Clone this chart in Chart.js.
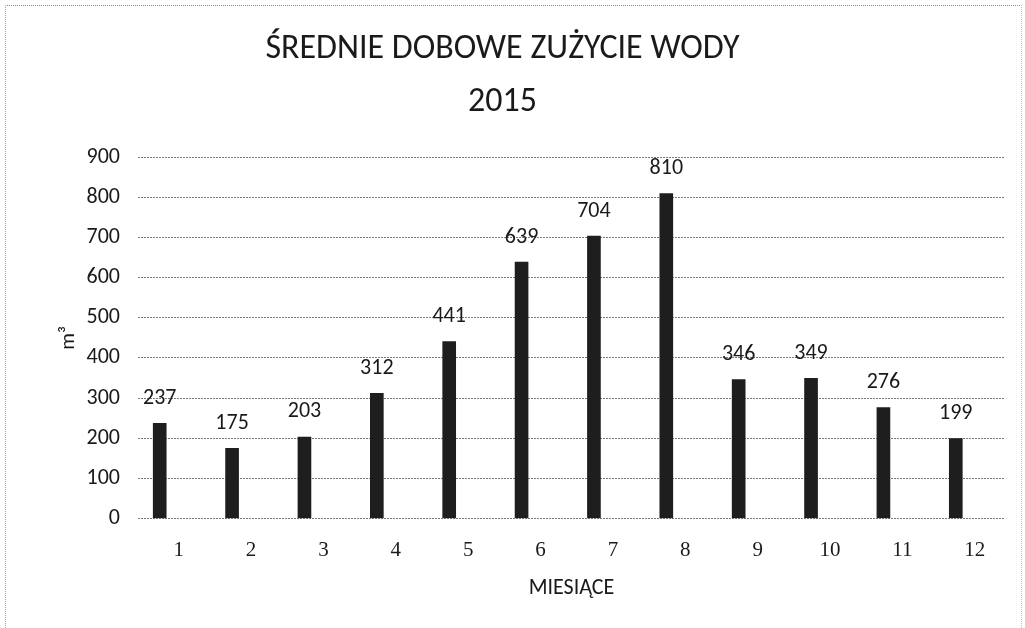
<!DOCTYPE html>
<html>
<head>
<meta charset="utf-8">
<script src="https://cdn.jsdelivr.net/npm/chart.js@4.4.1/dist/chart.umd.min.js"></script>
<style>
html,body{margin:0;padding:0;background:#fff;}
#wrap{position:relative;width:1025px;height:628px;overflow:hidden;}
#frame{position:absolute;left:5px;top:5px;width:1015px;height:640px;border-top:1px dotted #888;border-left:1px dotted #aaa;border-right:1px dotted #bbb;pointer-events:none;}
canvas{position:absolute;left:0;top:0;}
</style>
</head>
<body>
<div id="wrap">
<canvas id="c" width="1025" height="628"></canvas>
<div id="frame"></div>
</div>
<script>
const titleLines = ['ŚREDNIE DOBOWE ZUŻYCIE WODY', '2015'];
const months = [1, 2, 3, 4, 5, 6, 7, 8, 9, 10, 11, 12];
const usage = [237, 175, 203, 312, 441, 639, 704, 810, 346, 349, 276, 199];
const yTicks = [0, 100, 200, 300, 400, 500, 600, 700, 800, 900];
const xTitle = 'MIESIĄCE';
const yTitle = 'm³';

const points = months.map((m, i) => ({ x: m, y: usage[i] }));
const FONT = 'Carlito, Lato, "Open Sans", sans-serif';

const valueLabels = {
  id: 'valueLabels',
  afterDatasetsDraw(chart) {
    const ctx = chart.ctx;
    const meta = chart.getDatasetMeta(0);
    ctx.save();
    ctx.font = '22px ' + FONT;
    ctx.fillStyle = '#1a1a1a';
    ctx.textAlign = 'center';
    ctx.textBaseline = 'middle';
    meta.data.forEach((el, i) => {
      ctx.fillText(String(usage[i]), el.x, el.y - 25);
    });
    ctx.restore();
  }
};

// The original title sits a little left of the page centre
const titleShift = {
  id: 'titleShift',
  afterLayout(chart) {
    if (chart.titleBlock) chart.titleBlock.right -= 56;
  }
};

new Chart(document.getElementById('c'), {
  type: 'bar',
  data: {
    datasets: [{
      data: points,
      backgroundColor: '#1e1e1e',
      borderWidth: 0,
      barThickness: 13
    }]
  },
  options: {
    responsive: false,
    animation: false,
    layout: { padding: { left: 56, right: 20, top: 0, bottom: 26 } },
    plugins: {
      legend: { display: false },
      tooltip: { enabled: false },
      title: {
        display: true,
        text: titleLines,
        color: '#1a1a1a',
        font: { family: FONT, size: 34, weight: 'normal', lineHeight: 1.55 },
        padding: { top: 23, bottom: 29 }
      }
    },
    scales: {
      x: {
        type: 'linear',
        offset: false,
        min: 0.7,
        max: 12.68,
        afterBuildTicks(scale) {
          scale.ticks = months.map(v => ({ value: v }));
        },
        grid: { display: false, drawTicks: false },
        border: { display: false },
        ticks: {
          autoSkip: false,
          padding: 19,
          labelOffset: 19,
          color: '#1a1a1a',
          font: { family: '"Liberation Serif", serif', size: 21 }
        },
        title: {
          display: true,
          text: xTitle,
          color: '#1a1a1a',
          font: { family: FONT, size: 22 },
          padding: { top: -6, bottom: 0 }
        }
      },
      y: {
        min: 0,
        max: 900,
        afterBuildTicks(scale) {
          scale.ticks = yTicks.map(v => ({ value: v }));
        },
        afterFit(scale) { scale.width = 82; },
        grid: { color: '#7a7a7a', lineWidth: 1, drawTicks: false },
        border: { display: false, dash: [2, 1] },
        ticks: {
          padding: 18,
          color: '#1a1a1a',
          font: { family: FONT, size: 22 }
        },
        title: {
          display: true,
          text: yTitle,
          color: '#1a1a1a',
          font: { family: FONT, size: 21 },
          padding: 0
        }
      }
    }
  },
  plugins: [valueLabels, titleShift]
});
</script>
</body>
</html>
